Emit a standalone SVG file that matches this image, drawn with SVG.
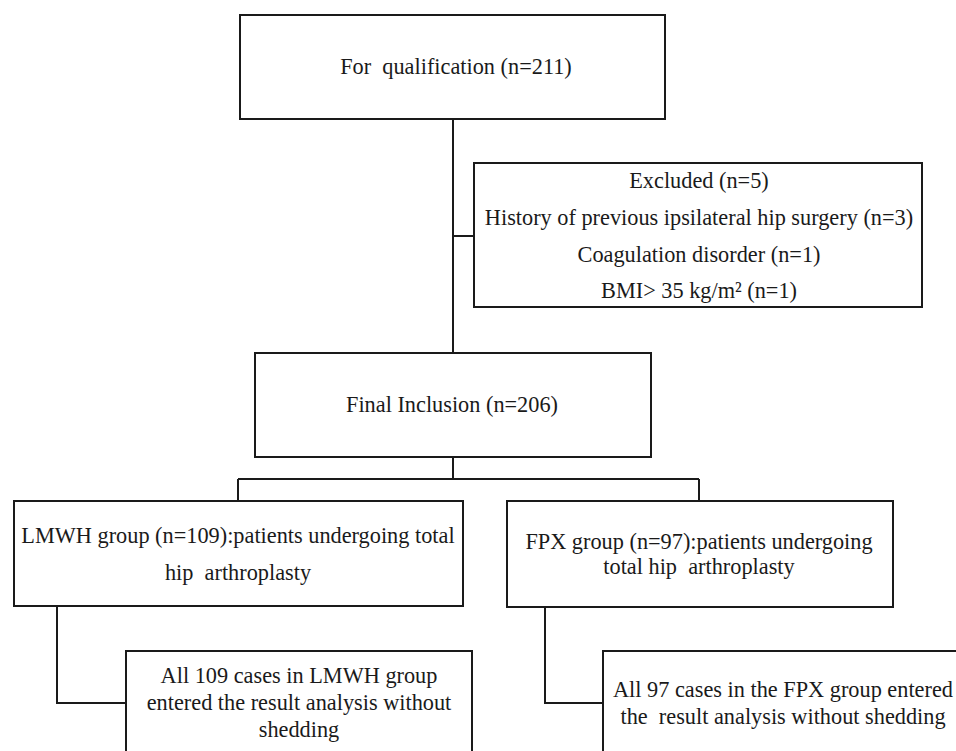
<svg xmlns="http://www.w3.org/2000/svg" width="956" height="751" viewBox="0 0 956 751">
<style>
.box{fill:#fff;stroke:#1a1a1a;stroke-width:2}
.conn{fill:none;stroke:#1a1a1a;stroke-width:2}
text{font-family:"Liberation Serif","Times New Roman",serif;font-size:22.3px;fill:#1a1a1a;text-anchor:middle;white-space:pre}
</style>
<rect width="956" height="751" fill="#fff"/>
<g id="connectors">
<path class="conn" d="M453 119 V353"/>
<path class="conn" d="M453 236 H474"/>
<path class="conn" d="M453 457 V479 M238 479 H699 M238 479 V501 M699 479 V501"/>
<path class="conn" d="M57 606 V703 H126"/>
<path class="conn" d="M545 607 V703 H603"/>
</g>
<g id="qualification">
<rect class="box" x="240" y="15" width="425" height="104"/>
<text x="456" y="74" xml:space="preserve">For  qualification (n=211)</text>
</g>
<g id="excluded">
<rect class="box" x="474" y="163" width="448" height="144"/>
<text x="699" y="188">Excluded (n=5)</text>
<text x="699" y="225">History of previous ipsilateral hip surgery (n=3)</text>
<text x="699" y="262">Coagulation disorder (n=1)</text>
<text x="699" y="298">BMI&gt; 35 kg/m² (n=1)</text>
</g>
<g id="final">
<rect class="box" x="255" y="353" width="396" height="104"/>
<text x="452" y="412">Final Inclusion (n=206)</text>
</g>
<g id="lmwh">
<rect class="box" x="14" y="501" width="449" height="105"/>
<text x="238" y="543">LMWH group (n=109):patients undergoing total</text>
<text x="238" y="580" xml:space="preserve">hip  arthroplasty</text>
</g>
<g id="fpx">
<rect class="box" x="507" y="501" width="386" height="106"/>
<text x="699" y="549">FPX group (n=97):patients undergoing</text>
<text x="699" y="574" xml:space="preserve">total hip  arthroplasty</text>
</g>
<g id="lmwh-result">
<rect class="box" x="126" y="651" width="346" height="120"/>
<text x="299" y="683">All 109 cases in LMWH group</text>
<text x="299" y="710">entered the result analysis without</text>
<text x="299" y="737">shedding</text>
</g>
<g id="fpx-result">
<rect class="box" x="603" y="651" width="380" height="120"/>
<text x="783" y="697">All 97 cases in the FPX group entered</text>
<text x="783" y="724" xml:space="preserve">the  result analysis without shedding</text>
</g>
</svg>
